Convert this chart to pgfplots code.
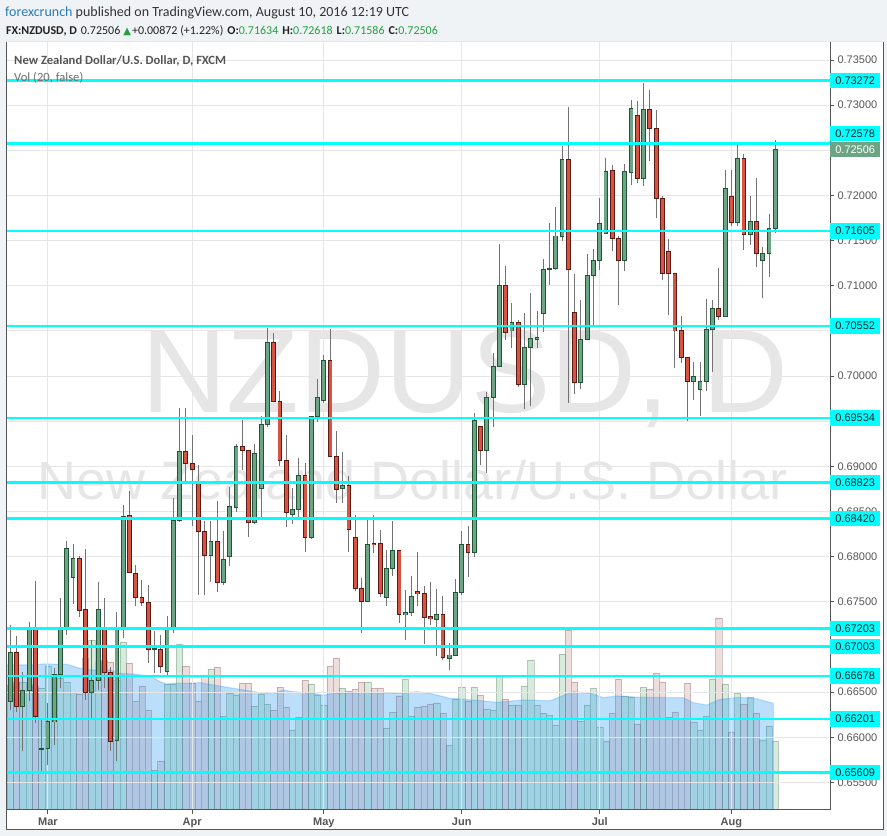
\documentclass[border=0pt]{standalone}
\usepackage{pgfplots}
\pgfplotsset{compat=1.18}
\usepackage{pgfplotstable}
\usepackage{fontspec}
\setmainfont{Carlito}
\newfontfamily\lib{Liberation Sans}
\newfontfamily\dejavu{DejaVu Sans}
\definecolor{bgc}{HTML}{F0F3F6}
\definecolor{axc}{HTML}{555555}
\definecolor{gridc}{HTML}{E6E6E6}
\definecolor{tickc}{HTML}{555555}
\definecolor{upfill}{HTML}{6BA583}
\definecolor{upborder}{HTML}{225437}
\definecolor{dnfill}{HTML}{D75442}
\definecolor{dnborder}{HTML}{5B1A13}
\definecolor{wickc}{HTML}{737375}
\definecolor{vup}{HTML}{7DBF8C}
\definecolor{vdn}{HTML}{C98F8F}
\definecolor{mablue}{HTML}{2196F3}
\definecolor{cyanl}{HTML}{00FFFF}
\definecolor{wm}{HTML}{E6E6E6}
\definecolor{fxblue}{HTML}{2A7AB8}
\definecolor{txt}{HTML}{333333}
\definecolor{grn}{HTML}{22A03C}
\definecolor{boxtext}{HTML}{222222}

\pgfplotstableread{
i O H L C V
0 0.6640 0.6724 0.6630 0.6694 125
1 0.6694 0.6712 0.6628 0.6634 128
2 0.6634 0.6672 0.6585 0.6652 128
3 0.6652 0.6728 0.6640 0.6721 126
4 0.6721 0.6773 0.6616 0.6623 124
5 0.6587 0.6619 0.6563 0.6588 122
6 0.6588 0.6638 0.6569 0.6617 144
7 0.6617 0.6677 0.6591 0.6670 136
8 0.6670 0.6754 0.6654 0.6720 132
9 0.6720 0.6817 0.6713 0.6809 128
10 0.6777 0.6814 0.6748 0.6798 118
11 0.6798 0.6801 0.6733 0.6741 116
12 0.6741 0.6808 0.6641 0.6650 152
13 0.6650 0.6708 0.6621 0.6663 170
14 0.6663 0.6772 0.6652 0.6741 148
15 0.6719 0.6754 0.6655 0.6672 150
16 0.6672 0.6678 0.6585 0.6595 148
17 0.6596 0.6739 0.6574 0.6719 130
18 0.6719 0.6857 0.6710 0.6845 168
19 0.6845 0.6873 0.6782 0.6783 147
20 0.6781 0.6791 0.6745 0.6755 109
21 0.6755 0.6774 0.6745 0.6749 124
22 0.6749 0.6769 0.6682 0.6697 100
23 0.6697 0.6718 0.6671 0.6698 40
24 0.6697 0.6713 0.6671 0.6678 49
25 0.6673 0.6734 0.6667 0.6719 126
26 0.6719 0.6865 0.6715 0.6840 126
27 0.6840 0.6965 0.6838 0.6916 166
28 0.6916 0.6965 0.6883 0.6903 144
29 0.6903 0.6935 0.6834 0.6897 127
30 0.6883 0.6902 0.6758 0.6828 109
31 0.6828 0.6839 0.6758 0.6801 135
32 0.6801 0.6839 0.6772 0.6817 141
33 0.6817 0.6862 0.6761 0.6772 143
34 0.6772 0.6829 0.6769 0.6797 94
35 0.6800 0.6877 0.6790 0.6855 117
36 0.6855 0.6925 0.6850 0.6922 115
37 0.6922 0.6951 0.6896 0.6918 127
38 0.6918 0.6918 0.6822 0.6838 127
39 0.6838 0.6925 0.6836 0.6914 104
40 0.6876 0.6956 0.6844 0.6946 116
41 0.6946 0.7053 0.6944 0.7037 106
42 0.7037 0.7048 0.6971 0.6972 100
43 0.6972 0.6983 0.6900 0.6906 123
44 0.6906 0.6935 0.6833 0.6849 103
45 0.6847 0.6876 0.6836 0.6852 80
46 0.6852 0.6909 0.6841 0.6890 93
47 0.6890 0.6904 0.6805 0.6821 130
48 0.6821 0.6956 0.6820 0.6955 126
49 0.6955 0.6997 0.6949 0.6976 115
50 0.6973 0.7023 0.6970 0.7017 105
51 0.7017 0.7052 0.6910 0.6911 144
52 0.6911 0.6939 0.6859 0.6875 152
53 0.6875 0.6916 0.6859 0.6879 122
54 0.6879 0.6889 0.6805 0.6830 119
55 0.6821 0.6846 0.6762 0.6765 121
56 0.6765 0.6776 0.6715 0.6750 128
57 0.6750 0.6844 0.6750 0.6814 128
58 0.6815 0.6846 0.6804 0.6813 122
59 0.6814 0.6830 0.6755 0.6759 122
60 0.6755 0.6807 0.6745 0.6787 82
61 0.6787 0.6839 0.6778 0.6807 98
62 0.6807 0.6807 0.6727 0.6736 114
63 0.6736 0.6763 0.6708 0.6738 131
64 0.6738 0.6779 0.6734 0.6756 94
65 0.6761 0.6805 0.6745 0.6759 103
66 0.6759 0.6767 0.6703 0.6733 104
67 0.6734 0.6772 0.6724 0.6731 106
68 0.6731 0.6764 0.6690 0.6736 107
69 0.6736 0.6756 0.6686 0.6688 97
70 0.6687 0.6704 0.6674 0.6691 65
71 0.6691 0.6775 0.6690 0.6760 111
72 0.6760 0.6828 0.6758 0.6813 123
73 0.6813 0.6834 0.6778 0.6805 109
74 0.6805 0.6959 0.6800 0.6951 123
75 0.6944 0.6944 0.6902 0.6918 115
76 0.6918 0.6982 0.6893 0.6976 101
77 0.6976 0.7026 0.6944 0.7011 100
78 0.7011 0.7146 0.7011 0.7100 135
79 0.7100 0.7122 0.7040 0.7048 111
80 0.7050 0.7081 0.7031 0.7059 105
81 0.7059 0.7062 0.6988 0.6991 105
82 0.6991 0.7070 0.6964 0.7032 124
83 0.7032 0.7092 0.6967 0.7042 150
84 0.7041 0.7072 0.7031 0.7043 105
85 0.7069 0.7130 0.7049 0.7118 97
86 0.7118 0.7169 0.7101 0.7119 95
87 0.7119 0.7187 0.7117 0.7155 85
88 0.7155 0.7255 0.7150 0.7240 156
89 0.7240 0.7298 0.6970 0.7118 180
90 0.7070 0.7113 0.6980 0.6993 128
91 0.6993 0.7084 0.6986 0.7041 89
92 0.7041 0.7135 0.7041 0.7111 105
93 0.7111 0.7141 0.7057 0.7128 122
94 0.7128 0.7197 0.7117 0.7169 83
95 0.7158 0.7241 0.7158 0.7227 69
96 0.7227 0.7234 0.7139 0.7152 97
97 0.7152 0.7155 0.7079 0.7128 131
98 0.7128 0.7235 0.7116 0.7226 114
99 0.7226 0.7306 0.7212 0.7296 113
100 0.7289 0.7305 0.7214 0.7219 86
101 0.7219 0.7325 0.7210 0.7295 123
102 0.7295 0.7317 0.7238 0.7274 121
103 0.7274 0.7295 0.7175 0.7197 137
104 0.7197 0.7200 0.7106 0.7114 128
105 0.7138 0.7152 0.7068 0.7114 93
106 0.7114 0.7114 0.7009 0.7050 98
107 0.7050 0.7066 0.7014 0.7021 91
108 0.7021 0.7021 0.6950 0.6994 127
109 0.6994 0.7016 0.6973 0.7000 88
110 0.6985 0.7016 0.6956 0.6994 80
111 0.6994 0.7085 0.6983 0.7052 94
112 0.7052 0.7084 0.7004 0.7075 131
113 0.7075 0.7120 0.7062 0.7066 192
114 0.7066 0.7228 0.7066 0.7208 126
115 0.7199 0.7228 0.7166 0.7170 78
116 0.7170 0.7256 0.7166 0.7241 117
117 0.7241 0.7246 0.7140 0.7157 106
118 0.7157 0.7200 0.7145 0.7171 113
119 0.7171 0.7219 0.7121 0.7136 97
120 0.7128 0.7143 0.7087 0.7136 70
121 0.7136 0.7179 0.7110 0.7163 84
122 0.71634 0.72618 0.71586 0.72506 69
}\data

\begin{document}
\begin{tikzpicture}[x=1pt,y=1pt]
\fill[bgc] (0,0) rectangle (887,836);
\fill[white] (6,6) rectangle (883,794);
% header
\node[anchor=base west, inner sep=0] at (5,819) {\fontsize{14}{16}\selectfont\textcolor{fxblue}{forexcrunch} \textcolor{txt}{published on TradingView.com, August 10, 2016 12:19 UTC}};
\node[anchor=base west, inner sep=0, text=boxtext] at (6,801.5) {\fontsize{12}{14}\selectfont{\bfseries FX:NZDUSD, D}\hspace{4pt}0.72506\hspace{3pt}{\dejavu\fontsize{10}{11}\selectfont\textcolor{grn}{▲}}\hspace{1pt}+0.00872 (+1.22\%)\hspace{4pt}{\bfseries O:}\textcolor{grn}{0.71634}\hspace{4pt}{\bfseries H:}\textcolor{grn}{0.72618}\hspace{4pt}{\bfseries L:}\textcolor{grn}{0.71586}\hspace{4pt}{\bfseries C:}\textcolor{grn}{0.72506}};

% volume axis
\begin{axis}[at={(6pt,26pt)}, anchor=south west, scale only axis,
  width=824pt, height=768pt, xmin=-0.69, xmax=130.73, ymin=0, ymax=768,
  axis lines=none]
  \node[anchor=base, text=wm, inner sep=0] at (rel axis cs:0.557,0.518) {\lib\fontsize{119}{120}\selectfont NZDUSD, D};
  \node[anchor=base, text=wm, inner sep=0] at (rel axis cs:0.493,0.404) {\lib\fontsize{54}{56}\selectfont New Zealand Dollar/U.S. Dollar};
  \addplot[ybar, bar width=1, bar shift=0pt, fill=vup, fill opacity=0.3, draw=vup!60!black, draw opacity=0.35, line width=0.6pt,
    restrict expr to domain={\thisrow{C}-\thisrow{O}}{0:1}] table[x=i, y=V] {\data};
  \addplot[ybar, bar width=1, bar shift=0pt, fill=vdn, fill opacity=0.3, draw=vdn!60!black, draw opacity=0.35, line width=0.6pt,
    restrict expr to domain={\thisrow{C}-\thisrow{O}}{-1:-0.0000001}] table[x=i, y=V] {\data};
  \addplot[fill=mablue, fill opacity=0.3, draw=mablue, draw opacity=0.25, line width=1.2pt] coordinates {
   (-0.69,145) (3.7,145) (5.3,146) (9,145.7) (11.1,141.7) (13.2,140) (15.9,140) (17.5,136.7) (19.6,136) (22.3,134) (23.9,128.3) (24.9,126) (26,126.7) (28.1,126.7) (30.3,127.3) (32.4,125) (35.6,121.7) (38.8,118.3) (41.9,116) (43.5,120) (45.1,118.3) (48.3,116.7) (49.9,114.7) (51.5,116.7) (56.8,117.3) (62.2,116.7) (64.8,118.3) (66.9,116.7) (70.1,111.7) (73.8,110) (77.6,107.7) (81.8,110) (86.1,109.3) (87.1,111.7) (89.8,118.3) (92.5,116.7) (94.6,112.3) (96.7,114) (100.4,112.7) (107.3,112.3) (108.9,107.3) (111.1,105) (113.2,110.7) (116.4,112.7) (119,111.3) (121.7,106.7)
  } \closedcycle;
\end{axis}

% price axis
\begin{axis}[at={(6pt,26pt)}, anchor=south west, scale only axis,
  width=824pt, height=768pt,
  xmin=-0.69, xmax=130.73, ymin=0.65194, ymax=0.73699,
  axis x line*=bottom, axis y line*=right,
  axis line style={draw=axc, line width=1pt},
  xtick={6,29,50,72,94,115}, xticklabels={Mar,Apr,May,Jun,Jul,Aug},
  ytick={0.655,0.66,0.665,0.67,0.675,0.68,0.685,0.69,0.695,0.70,0.705,0.71,0.715,0.72,0.725,0.73,0.735},
  yticklabels={0.65500,0.66000,0.66500,,0.67500,0.68000,0.68500,0.69000,,0.70000,0.70500,0.71000,0.71500,0.72000,,0.73000,0.73500},
  xmajorgrids, ymajorgrids, grid style={draw=gridc, line width=0.9pt},
  tick align=outside, major tick length=4pt, tick style={draw=axc, line width=0.9pt},
  yticklabel style={font=\lib\fontsize{11}{12}\selectfont, text=tickc},
  xticklabel style={font=\lib\bfseries\fontsize{11}{12}\selectfont, text=tickc},
  clip mode=individual]
  % wicks
  \addplot[draw=none, no marks, error bars/.cd, y dir=both, y explicit, error mark=none,
    error bar style={line width=1pt, draw=wickc}]
    table[x=i, y expr={(\thisrow{H}+\thisrow{L})/2}, y error expr={(\thisrow{H}-\thisrow{L})/2}] {\data};
  % up bodies
  \addplot[draw=none, no marks, restrict expr to domain={\thisrow{C}-\thisrow{O}}{0:1},
    error bars/.cd, y dir=both, y explicit, error mark=none,
    error bar style={line width=4.8pt, draw=upborder}]
    table[x=i, y expr={(\thisrow{O}+\thisrow{C})/2}, y error expr={abs(\thisrow{C}-\thisrow{O})/2+0.00006}] {\data};
  \addplot[draw=none, no marks, restrict expr to domain={\thisrow{C}-\thisrow{O}}{0:1},
    error bars/.cd, y dir=both, y explicit, error mark=none,
    error bar style={line width=3pt, draw=upfill}]
    table[x=i, y expr={(\thisrow{O}+\thisrow{C})/2}, y error expr={max(abs(\thisrow{C}-\thisrow{O})/2-0.00005,0)}] {\data};
  % down bodies
  \addplot[draw=none, no marks, restrict expr to domain={\thisrow{C}-\thisrow{O}}{-1:-0.0000001},
    error bars/.cd, y dir=both, y explicit, error mark=none,
    error bar style={line width=4.8pt, draw=dnborder}]
    table[x=i, y expr={(\thisrow{O}+\thisrow{C})/2}, y error expr={abs(\thisrow{C}-\thisrow{O})/2+0.00006}] {\data};
  \addplot[draw=none, no marks, restrict expr to domain={\thisrow{C}-\thisrow{O}}{-1:-0.0000001},
    error bars/.cd, y dir=both, y explicit, error mark=none,
    error bar style={line width=3pt, draw=dnfill}]
    table[x=i, y expr={(\thisrow{O}+\thisrow{C})/2}, y error expr={max(abs(\thisrow{C}-\thisrow{O})/2-0.00005,0)}] {\data};
  % levels
  \pgfplotsinvokeforeach{0.73272,0.72578,0.71605,0.70552,0.69534,0.68823,0.68420,0.67203,0.67003,0.66678,0.66201,0.65609}{
    \addplot[cyanl, line width=2.6pt] coordinates {(-0.69,#1) (130.73,#1)};
  }
  \coordinate (lA) at (axis cs:130.73,0.73272);
  \coordinate (lB) at (axis cs:130.73,0.72578);
  \coordinate (lC) at (axis cs:130.73,0.71605);
  \coordinate (lD) at (axis cs:130.73,0.70552);
  \coordinate (lE) at (axis cs:130.73,0.69534);
  \coordinate (lF) at (axis cs:130.73,0.68823);
  \coordinate (lG) at (axis cs:130.73,0.68420);
  \coordinate (lH) at (axis cs:130.73,0.67203);
  \coordinate (lI) at (axis cs:130.73,0.67003);
  \coordinate (lJ) at (axis cs:130.73,0.66678);
  \coordinate (lK) at (axis cs:130.73,0.66201);
  \coordinate (lL) at (axis cs:130.73,0.65609);
  \coordinate (lP) at (axis cs:130.73,0.72506);
  \node[anchor=base west, inner sep=0, text=axc] at (rel axis cs:0.0097,0.971) {\fontsize{12.6}{15}\selectfont\bfseries New Zealand Dollar/U.S. Dollar, D, FXCM};
  \node[anchor=base west, inner sep=0, text=axc!85] at (rel axis cs:0.0097,0.949) {\fontsize{12.6}{15}\selectfont Vol (20, false)};
\end{axis}

\tikzset{lvl/.style={anchor=west, fill=cyanl, inner sep=0, minimum width=50pt, minimum height=15.5pt, text=boxtext, font=\lib\fontsize{11}{12}\selectfont}}
\node[lvl] at (lA) {0.73272};
\node[lvl] at ([yshift=9.5pt]lB) {0.72578};
\node[lvl, fill=upfill, text=white] at (lP) {0.72506};
\node[lvl] at (lC) {0.71605};
\node[lvl] at (lD) {0.70552};
\node[lvl] at (lE) {0.69534};
\node[lvl] at (lF) {0.68823};
\node[lvl] at (lG) {0.68420};
\node[lvl] at (lH) {0.67203};
\node[lvl] at (lI) {0.67003};
\node[lvl] at (lJ) {0.66678};
\node[lvl] at (lK) {0.66201};
\node[lvl] at (lL) {0.65609};
% frame
\draw[axc, line width=1pt] (6,794)--(6,6)--(883,6)--(883,794);
\draw[gridc, line width=1pt] (6,794)--(883,794);
\end{tikzpicture}
\end{document}
